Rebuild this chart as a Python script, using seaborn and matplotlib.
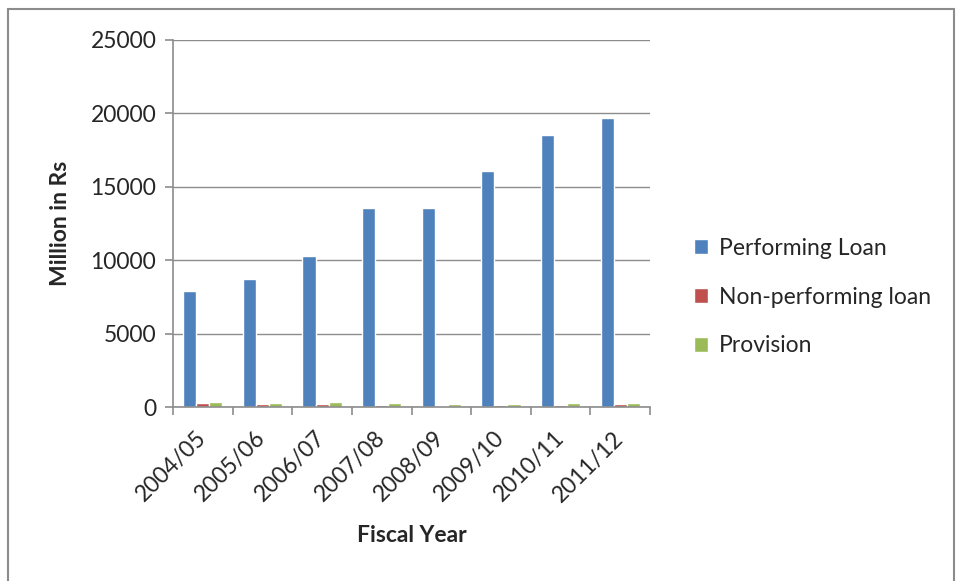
import numpy as np
import pandas as pd
import matplotlib
matplotlib.use("Agg")
import matplotlib.pyplot as plt
import matplotlib.transforms as mtransforms
import seaborn as sns
from matplotlib.patches import Rectangle

years = ["2004/05", "2005/06", "2006/07", "2007/08", "2008/09", "2009/10", "2010/11", "2011/12"]
performing = [7900, 8720, 10290, 13560, 13580, 16080, 18560, 19690]
nonperforming = [240, 230, 230, 130, 60, 110, 120, 180]
provision = [320, 300, 310, 260, 200, 230, 250, 290]
series = ["Performing Loan", "Non-performing loan", "Provision"]
colors = ["#4F81BD", "#C0504D", "#9BBB59"]

df = pd.DataFrame({
    "year": years * 3,
    "value": performing + nonperforming + provision,
    "series": [series[0]] * 8 + [series[1]] * 8 + [series[2]] * 8,
})

sns.set_theme(style="white")
plt.rcParams["font.family"] = ["Lato", "DejaVu Sans"]
FS = 16.5

fig = plt.figure(figsize=(9.56, 5.81), dpi=100)
ax = fig.add_axes([173 / 956, 1 - 407 / 581, (650 - 173) / 956, (407 - 40) / 581])

sns.barplot(data=df, x="year", y="value", hue="series", palette=colors,
            width=0.66, saturation=1, ax=ax, legend=True, errorbar=None)

ax.set_ylim(0, 25000)
ax.set_xlim(-0.5, 7.5)
ax.set_yticks(np.arange(0, 25001, 5000))
ax.yaxis.grid(True, color="#8C8C8C", linewidth=1)
ax.set_axisbelow(True)
for s in ["top", "right"]:
    ax.spines[s].set_visible(False)
for s in ["left", "bottom"]:
    ax.spines[s].set_color("#8C8C8C")
    ax.spines[s].set_linewidth(1.2)

ax.set_xticks(np.arange(8))
ax.set_xticklabels(years, rotation=45, ha="right", va="center", rotation_mode="anchor", fontsize=FS)
offset = mtransforms.ScaledTranslation(8 / 100, 0, fig.dpi_scale_trans)
for lab in ax.get_xticklabels():
    lab.set_transform(lab.get_transform() + offset)
ax.set_xticks(np.arange(-0.5, 8, 1), minor=True)
ax.tick_params(axis="x", which="major", length=0, pad=20)
ax.tick_params(axis="x", which="minor", length=6, width=1.2, color="#8C8C8C", direction="out", bottom=True)
ax.tick_params(axis="y", length=6, width=1.2, color="#8C8C8C", direction="out", left=True, labelsize=FS, pad=6)

ax.set_xlabel("Fiscal Year", fontsize=FS, fontweight="bold", labelpad=14)
ax.set_ylabel("Million in Rs", fontsize=FS, fontweight="bold", labelpad=14)

handles, labels = ax.get_legend_handles_labels()
ax.legend(handles, labels, loc="center left", bbox_to_anchor=(683 / 956, 1 - 297 / 581),
          bbox_transform=fig.transFigure, frameon=False, fontsize=FS,
          handlelength=0.6, handleheight=0.6, handletextpad=0.45, labelspacing=1.22,
          borderpad=0)

fig.patches.append(Rectangle((8 / 956, -0.05), (954 - 8) / 956, 1.05 - 9 / 581,
                             transform=fig.transFigure, fill=False, edgecolor="#8C8C8C",
                             linewidth=1.5))

fig.savefig("out.png", dpi=100)
